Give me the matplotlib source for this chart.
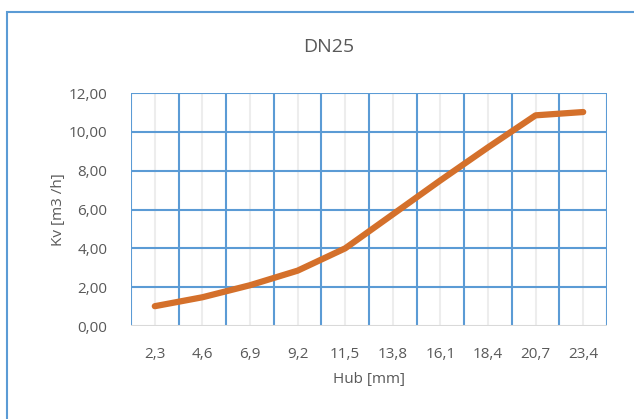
import matplotlib
matplotlib.use("Agg")
import matplotlib.pyplot as plt
from matplotlib.patches import Rectangle
import numpy as np

## data
hub = ["2,3", "4,6", "6,9", "9,2", "11,5", "13,8", "16,1", "18,4", "20,7", "23,4"]
kv = [1.02, 1.48, 2.10, 2.85, 4.00, 5.75, 7.50, 9.20, 10.85, 11.02]
yticks = [0, 2, 4, 6, 8, 10, 12]

blue = "#5B9BD5"
grey = "#595959"
orange = "#D4702B"

plt.rcParams['font.family'] = ['Open Sans', 'DejaVu Sans']

fig = plt.figure(figsize=(6.34, 4.19), dpi=100)
# chart border (right and bottom run past the picture edge)
fig.patches.append(Rectangle((7/634, -0.05), 1.2, 1 - 12/419 + 0.05, transform=fig.transFigure,
                             fill=False, edgecolor=blue, linewidth=1.5))

ax = fig.add_axes([131/634, 1 - 326/419, 476/634, 233/419])
x = np.arange(len(hub)) + 0.5

# grid: grey at category centres, blue at category borders and y steps
for xc in x:
    ax.axvline(xc, color="#EDEDED", lw=1.5, zorder=1)
for xb in range(len(hub) + 1):
    ax.axvline(xb, color=blue, lw=1.5, zorder=2)
for yv in yticks[1:]:
    ax.axhline(yv, color=blue, lw=1.5, zorder=2)
ax.axhline(0, color="#D9D9D9", lw=1.5, zorder=2)

ax.plot(x, kv, color=orange, lw=4.5, solid_capstyle="round", solid_joinstyle="round", zorder=3)

ax.set_xlim(0, len(hub))
ax.set_ylim(0, 12)
ax.set_xticks(x)
ax.set_xticklabels(hub)
ax.set_yticks(yticks)
ax.set_yticklabels(["%d,00" % v for v in yticks])
ax.tick_params(length=0, labelsize=11, colors=grey)
ax.tick_params(axis="x", pad=15)
ax.tick_params(axis="y", pad=17)
for s in ax.spines.values():
    s.set_visible(False)

ax.set_xlabel("Hub [mm]", fontsize=11, color=grey, labelpad=7)
ax.set_ylabel("Kv [m3 /h]", fontsize=11, color=grey, labelpad=2)
fig.text(329/634, 1 - 47/419, "DN25", ha="center", va="center",
         fontsize=14, color=grey)

fig.savefig("out.png", dpi=100)
